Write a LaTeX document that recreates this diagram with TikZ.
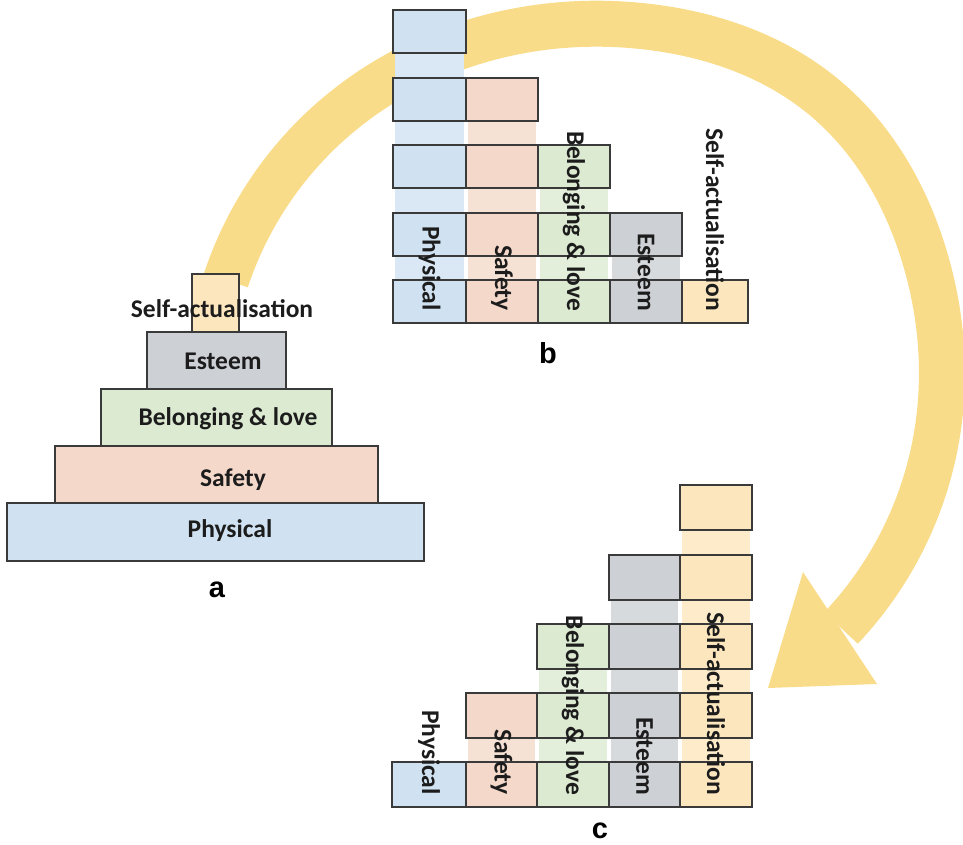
\documentclass[tikz,border=0pt]{standalone}
\usepackage{fontspec}
\usetikzlibrary{hobby}
\setmainfont{Carlito}
\newfontfamily\tagfont{Liberation Sans}
\definecolor{edge}{HTML}{3A3A3A}
\definecolor{ink}{HTML}{1C1C1C}
\definecolor{cphy}{HTML}{D0E2F2}
\definecolor{csaf}{HTML}{F4D9CB}
\definecolor{cbel}{HTML}{DCEAD2}
\definecolor{cest}{HTML}{CDD0D5}
\definecolor{cself}{HTML}{FCE6BD}
\definecolor{band}{HTML}{F9DC8A}
\begin{document}
\begin{tikzpicture}[x=1pt,y=-1pt,
  box/.style={draw=edge, line width=1.3pt},
  lvl/.style={font=\fontsize{25.5}{30}\selectfont\bfseries, text=ink, inner sep=0pt},
  vlvl/.style={lvl, rotate=-90, anchor=east},
  tag/.style={font=\tagfont\bfseries\fontsize{29}{34}\selectfont, text=black, inner sep=0pt},
]
\useasboundingbox (0,0) rectangle (963,845);

% curved arrow running from the pyramid over to the final stack
\coordinate (tail) at (226,280);
\coordinate (head) at (841,628);
\draw[band, line width=46pt, use Hobby shortcut]
  (tail) .. (330,122) .. (495,36) .. (650,27) .. (825,98) .. (924,255)
  .. (936,440) .. (head);
\fill[band] (803,572) coordinate (h1) -- (768,688) coordinate (tip) -- (877,684) coordinate (h2) -- cycle;

% ---- a: pyramid ----
\draw[box, fill=cself] (192,274) rectangle (239,332);
\draw[box, fill=cest]  (147,332) rectangle (286,389);
\draw[box, fill=cbel]  (101,389) rectangle (332,446);
\draw[box, fill=csaf]  (55,446)  rectangle (378,503);
\draw[box, fill=cphy]  (7,503)   rectangle (424,561);
\node[lvl] (a-self) at (222,309) {Self-actualisation};
\node[lvl] (a-est)  at (223,361) {Esteem};
\node[lvl] (a-bel)  at (228,419) {Belonging \& love};
\node[lvl] (a-saf)  at (233,480) {Safety};
\node[lvl] (a-phy)  at (230,531) {Physical};
\node[tag] (lab-a) at (217,590) {a};

% ---- b: columns shrinking to the right ----
\foreach \l/\r/\c/\tp/\rows in {
    393/466/cphy/10/{10,78,145,213,280},
    466/538/csaf/78/{78,145,213,280},
    538/610/cbel/145/{145,213,280},
    610/682/cest/213/{213,280},
    682/748/cself/280/{280}} {
  \fill[\c!80!white] (\l+2,\tp) rectangle (\r-2,323);
  \foreach \t in \rows {
    \draw[box, fill=\c] (\l,\t) rectangle (\r,\t+43);
  }
}
\node[vlvl] (b-phy)  at (429.5,311) {Physical};
\node[vlvl] (b-saf)  at (502,311)   {Safety};
\node[vlvl] (b-bel)  at (574,311)   {Belonging \& love};
\node[vlvl] (b-est)  at (646,311)   {Esteem};
\node[vlvl] (b-self) at (715,311)   {Self-actualisation};
\node[tag] (lab-b) at (548,353) {b};

% ---- c: columns growing to the right ----
\foreach \l/\r/\c/\tp/\rows in {
    392/466/cphy/762/{762},
    466/537/csaf/693/{693,762},
    537/609/cbel/624/{624,693,762},
    609/680/cest/555/{555,624,693,762},
    680/752/cself/485/{485,555,624,693,762}} {
  \fill[\c!80!white] (\l+2,\tp) rectangle (\r-2,807);
  \foreach \t in \rows {
    \draw[box, fill=\c] (\l,\t) rectangle (\r,\t+45);
  }
}
\node[vlvl] (c-phy)  at (429,795)   {Physical};
\node[vlvl] (c-saf)  at (501.5,795) {Safety};
\node[vlvl] (c-bel)  at (573,795)   {Belonging \& love};
\node[vlvl] (c-est)  at (644.5,795) {Esteem};
\node[vlvl] (c-self) at (716,795)   {Self-actualisation};
\node[tag] (lab-c) at (600,831) {c};
\end{tikzpicture}
\end{document}
